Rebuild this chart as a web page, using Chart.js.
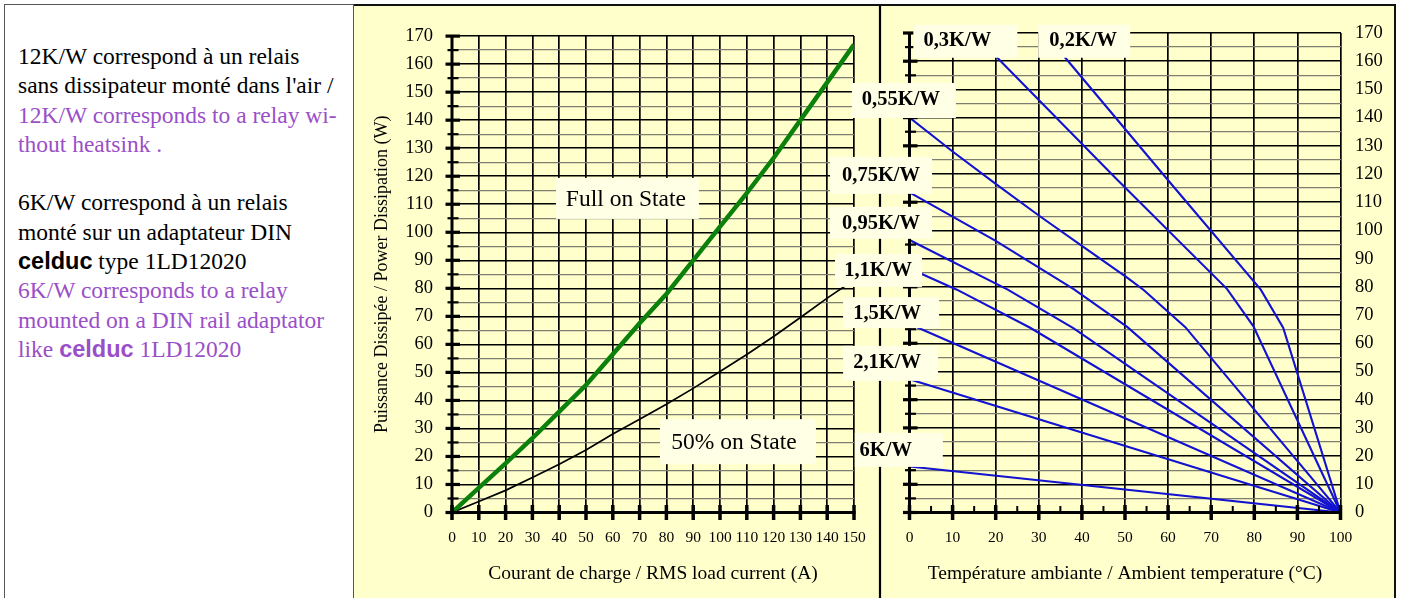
<!DOCTYPE html>
<html>
<head>
<meta charset="utf-8">
<script src="https://cdn.jsdelivr.net/npm/chart.js@4.4.0/dist/chart.umd.min.js"></script>
<style>
    html, body { margin: 0; padding: 0; background: #fff; }
    body { width: 1402px; height: 598px; position: relative; overflow: hidden; }
    #notes {
        position: absolute; left: 4px; top: 4px; width: 350px; height: 600px;
        box-sizing: border-box; border: 1px solid #555; border-bottom: none;
        padding: 37px 0 0 13px;
        font: 23.5px 'Liberation Serif', 'Times New Roman', serif;
        line-height: 29.3px; color: #000; white-space: nowrap;
    }
    #notes .en { color: #9a4fc9; }
    #notes b { font-family: 'Liberation Sans', Arial, sans-serif; font-weight: bold; }
    #plot {
        position: absolute; left: 354px; top: 4px; width: 1042px; height: 594px;
        box-sizing: border-box; border-top: 2px solid #111; border-right: 2px solid #111;
        background: #ffffcc;
    }
    #plot canvas { position: absolute; left: 0; top: 0; }
</style>
</head>
<body>
<div id="notes">12K/W correspond à un relais<br>sans dissipateur monté dans l'air /<br><span class="en">12K/W corresponds to a relay wi-<br>thout heatsink .</span><br><br>6K/W correspond à un relais<br>monté sur un adaptateur DIN<br><b>celduc</b> type 1LD12020<br><span class="en">6K/W corresponds to a relay<br>mounted on a DIN rail adaptator<br>like <b>celduc</b> 1LD12020</span></div>
<div id="plot">
    <canvas id="powerChart" width="1040" height="592"></canvas>
    <canvas id="deratingChart" width="1040" height="592"></canvas>
</div>
<script>
// left chart: dissipated power vs RMS load current
const loadCurrent = [0, 10, 20, 30, 40, 50, 60, 70, 80, 90, 100, 110, 120, 130, 140, 150];
const fullOnPower = [0, 8.8, 17.5, 26.5, 36, 45.5, 56.5, 67.5, 78, 90, 102, 114, 126.5, 140, 153.5, 167];
const halfOnPower = [0, 3.9, 7.9, 12.5, 17.2, 22.3, 28, 33.3, 38.6, 44.3, 50.3, 56.4, 62.8, 69.6, 76.5, 83];

// right chart: allowed power vs ambient temperature, one curve per heatsink
const rthNames = ['0,2K/W', '0,3K/W', '0,55K/W', '0,75K/W', '0,95K/W', '1,1K/W', '1,5K/W', '2,1K/W', '6K/W'];
const temp02 = [36, 60, 81.5, 86.7, 100];
const pow02 = [161.5, 117.8, 79, 65.5, 0];
const temp03 = [20.2, 48.2, 73.7, 79.8, 100];
const pow03 = [161.5, 118, 79.2, 66, 0];
const temp055 = [0, 10, 20, 30, 40, 50.5, 54.4, 64, 100];
const pow055 = [140, 128, 116.5, 105.3, 94.5, 83.3, 78.8, 65.7, 0];
const temp075 = [0, 20, 38.1, 50.5, 100];
const pow075 = [113.5, 96.3, 79.2, 65.8, 0];
const temp095 = [0, 22.8, 38.1, 100];
const pow095 = [96.6, 79, 65.3, 0];
const temp11 = [0, 11, 28, 100];
const pow11 = [86.5, 79, 65.5, 0];
const temp15 = [0, 100];
const pow15 = [66.8, 0];
const temp21 = [0, 100];
const pow21 = [47.2, 0];
const temp6 = [0, 100];
const pow6 = [16.3, 0];

const currentTicks = { min: 0, max: 150, step: 10 };
const tempTicks = { min: 0, max: 100, step: 10 };
const powerTicks = { min: 0, max: 170, step: 5 };

const SERIF = "'Liberation Serif', 'Times New Roman', serif";
const BOX = '#ffffe6';

function pairs(xs, ys) {
    return xs.map((v, i) => ({ x: v, y: ys[i] }));
}

// text boxes, anchored in data units, box extents in px around the text centre
const powerNotes = [
    { text: 'Full on State', x: 64.9, y: 111.9, box: [70, 73, 21, 20] },
    { text: '50% on State', x: 105.2, y: 25.1, box: [74, 82, 23, 22] }
];
const rthNotes = [
    { text: '0,3K/W', x: 11.1, y: 167.6, box: [44, 60, 15, 18] },
    { text: '0,2K/W', x: 40.3, y: 167.6, box: [45, 47, 15, 18] },
    { text: '0,55K/W', x: -2.0, y: 146.6, box: [49, 55, 16, 19] },
    { text: '0,75K/W', x: -6.6, y: 119.7, box: [51, 51, 18, 19] },
    { text: '0,95K/W', x: -6.6, y: 102.7, box: [51, 51, 16, 16] },
    { text: '1,1K/W', x: -7.3, y: 86.0, box: [43, 44, 16, 17] },
    { text: '1,5K/W', x: -5.2, y: 70.7, box: [44, 52, 16, 15] },
    { text: '2,1K/W', x: -5.2, y: 53.4, box: [44, 51, 16, 19] },
    { text: '6K/W', x: -5.5, y: 22.2, box: [31, 57, 17, 17] }
];

function line(ctx, x1, y1, x2, y2) {
    ctx.beginPath();
    ctx.moveTo(x1, y1);
    ctx.lineTo(x2, y2);
    ctx.stroke();
}

// thick axes with ticks crossing the axis line
const axesPlugin = {
    id: 'axes',
    afterDatasetsDraw(chart, args, opts) {
        const { ctx } = chart;
        const x = chart.scales.x, y = chart.scales.y;
        const ax = x.getPixelForValue(x.min);
        const ay = y.getPixelForValue(0);
        ctx.save();
        ctx.strokeStyle = '#000';
        ctx.lineWidth = 3;
        line(ctx, ax, y.top - 1, ax, ay + 1.5);
        line(ctx, ax - 1.5, ay, x.right + 1.5, ay);
        y.ticks.forEach(t => {
            const py = y.getPixelForValue(t.value);
            const major = t.value % 10 === 0;
            ctx.lineWidth = major ? 3.2 : 2.2;
            line(ctx, ax - (major ? 6.5 : 4.5), py, ax + (major ? 8 : 6.5), py);
        });
        x.ticks.forEach((t, i) => {
            const px = x.getPixelForValue(t.value);
            ctx.lineWidth = 3.5;
            line(ctx, px, ay - 7.5, px, ay + 7.5);
            if (opts.minor && i < x.ticks.length - 1) {
                const mx = x.getPixelForValue((t.value + x.ticks[i + 1].value) / 2);
                ctx.lineWidth = 2;
                line(ctx, mx, ay - 6.5, mx, ay);
            }
        });
        ctx.restore();
    }
};

const notesPlugin = {
    id: 'notes',
    afterDraw(chart, args, opts) {
        const { ctx } = chart;
        const x = chart.scales.x, y = chart.scales.y;
        ctx.save();
        ctx.font = opts.font;
        ctx.textAlign = 'center';
        ctx.textBaseline = 'middle';
        opts.items.forEach(n => {
            const cx = x.getPixelForValue(n.x);
            const cy = y.getPixelForValue(n.y);
            const [l, r, t, b] = n.box;
            ctx.fillStyle = BOX;
            ctx.fillRect(cx - l, cy - t, l + r, t + b);
            ctx.fillStyle = '#000';
            ctx.fillText(n.text, cx, cy + 1);
        });
        ctx.restore();
    }
};

const dividerPlugin = {
    id: 'divider',
    beforeDraw(chart, args, opts) {
        const { ctx } = chart;
        ctx.save();
        ctx.strokeStyle = '#000';
        ctx.lineWidth = 2.2;
        line(ctx, opts.x, 0, opts.x, chart.height);
        ctx.restore();
    }
};

function powerAxis(position, width, padding) {
    return {
        type: 'linear',
        position: position,
        min: powerTicks.min,
        max: powerTicks.max,
        afterFit: s => { s.width = width; },
        border: { display: false },
        grid: {
            drawTicks: false,
            color: c => c.tick.value % 10 === 0 ? '#000' : '#7d7d72',
            lineWidth: c => c.tick.value % 10 === 0 ? 1.5 : 1.3
        },
        ticks: {
            stepSize: powerTicks.step,
            autoSkip: false,
            padding: padding,
            color: '#000',
            font: { family: SERIF, size: 18.5 },
            callback: v => v % 10 === 0 ? String(v) : ''
        }
    };
}

function bottomAxis(range, title) {
    return {
        type: 'linear',
        min: range.min,
        max: range.max,
        afterFit: s => { s.height = 85.5; },
        border: { display: false },
        grid: { drawTicks: false, color: '#000', lineWidth: 1.7 },
        ticks: {
            stepSize: range.step,
            autoSkip: false,
            maxRotation: 0,
            padding: 16.5,
            color: '#000',
            font: { family: SERIF, size: 15.5 }
        },
        title: {
            display: true,
            text: title,
            color: '#000',
            font: { family: SERIF, size: 19.5 },
            padding: { top: 0, bottom: 12.3 }
        }
    };
}

const powerCtx = document.getElementById('powerChart').getContext('2d');
new Chart(powerCtx, {
    type: 'line',
    data: {
        datasets: [
            {
                label: 'Full on State',
                data: pairs(loadCurrent, fullOnPower),
                borderColor: '#0b800b',
                borderWidth: 4.5,
                pointRadius: 0,
                tension: 0
            },
            {
                label: '50% on State',
                data: pairs(loadCurrent, halfOnPower),
                borderColor: '#000',
                borderWidth: 1.7,
                pointRadius: 0,
                tension: 0
            }
        ]
    },
    options: {
        responsive: false,
        animation: false,
        layout: { padding: { left: 0, top: 27, right: 540, bottom: 0 } },
        plugins: {
            legend: { display: false },
            tooltip: { enabled: false },
            axes: { minor: false },
            notes: { items: powerNotes, font: '23.5px ' + SERIF }
        },
        scales: {
            x: bottomAxis(currentTicks, 'Courant de charge / RMS load current (A)'),
            y: Object.assign(powerAxis('left', 98, 19), {
                title: {
                    display: true,
                    text: 'Puissance Dissipée / Power Dissipation (W)',
                    color: '#000',
                    font: { family: SERIF, size: 18 },
                    padding: { top: 17, bottom: 0 }
                }
            })
        }
    },
    plugins: [axesPlugin, notesPlugin]
});

const rthTemps = [temp02, temp03, temp055, temp075, temp095, temp11, temp15, temp21, temp6];
const rthPowers = [pow02, pow03, pow055, pow075, pow095, pow11, pow15, pow21, pow6];

const deratingCtx = document.getElementById('deratingChart').getContext('2d');
new Chart(deratingCtx, {
    type: 'line',
    data: {
        datasets: rthNames.map((name, i) => ({
            label: name,
            data: pairs(rthTemps[i], rthPowers[i]),
            borderColor: '#1212d0',
            borderWidth: 2.1,
            pointRadius: 0,
            tension: 0
        }))
    },
    options: {
        responsive: false,
        animation: false,
        layout: { padding: { left: 555.5, top: 27, right: 0, bottom: 0 } },
        plugins: {
            legend: { display: false },
            tooltip: { enabled: false },
            axes: { minor: true },
            divider: { x: 526 },
            notes: { items: rthNotes, font: 'bold 20.5px ' + SERIF }
        },
        scales: {
            x: bottomAxis(tempTicks, 'Température ambiante / Ambient temperature (°C)'),
            y: powerAxis('right', 53.5, 14.5)
        }
    },
    plugins: [dividerPlugin, axesPlugin, notesPlugin]
});
</script>
</body>
</html>
